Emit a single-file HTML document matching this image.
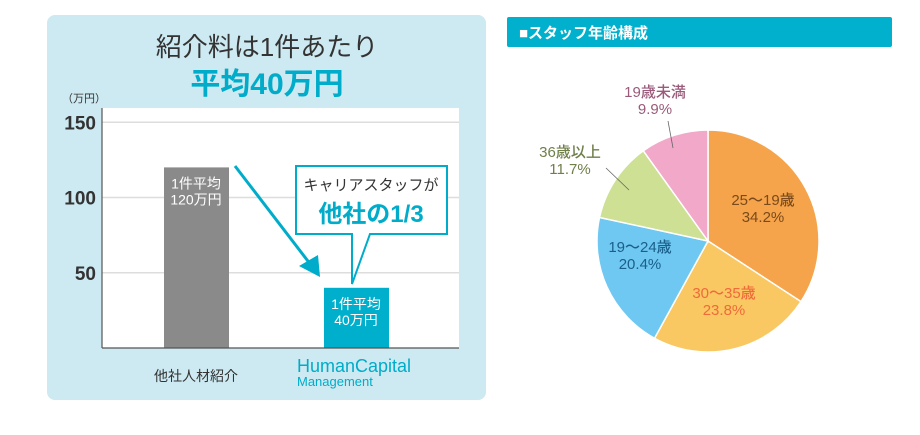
<!DOCTYPE html>
<html><head><meta charset="utf-8">
<style>
body{margin:0;width:920px;height:430px;background:#fff;overflow:hidden;font-family:"Liberation Sans","Noto Sans CJK JP",sans-serif;}
svg text{font-family:"Liberation Sans","Noto Sans CJK JP",sans-serif;}
</style></head><body>
<svg width="920" height="430">
<g id="bar">
<rect x="47" y="15" width="439" height="385" rx="8" fill="#cde9f1"/>
<text x="267" y="56" font-size="26" fill="#333" text-anchor="middle">紹介料は1件あたり</text>
<text x="267" y="94" font-size="30" font-weight="bold" fill="#00acc9" text-anchor="middle">平均40万円</text>
<text x="62" y="102" font-size="11" fill="#333">（万円）</text>
<rect x="102" y="108" width="357" height="240" fill="#fff"/>
<g id="grid"></g>
<g id="bars"></g>
<line x1="102" y1="108" x2="102" y2="348" stroke="#555" stroke-width="1.2"/>
<line x1="102" y1="348" x2="459" y2="348" stroke="#555" stroke-width="1.2"/>
<line x1="235" y1="166" x2="314" y2="269" stroke="#00acc9" stroke-width="3"/>
<polygon points="320,277 299,266 318,255" fill="#00acc9"/>
<g>
<path d="M296,166 H447 V234 H370 L352,284 L352,234 H296 Z" fill="#fff" stroke="#00acc9" stroke-width="2"/>
<text x="371" y="190" font-size="15" fill="#333" text-anchor="middle">キャリアスタッフが</text>
<text x="371" y="222" font-size="24" font-weight="bold" fill="#00acc9" text-anchor="middle">他社の1/3</text>
</g>
<text x="196" y="381" font-size="14" fill="#333" text-anchor="middle">他社人材紹介</text>
<text x="297" y="372" font-size="18" fill="#00acc9">HumanCapital</text>
<text x="297" y="386" font-size="13" fill="#00acc9">Management</text>
</g>
<g>
<rect x="507" y="17" width="385" height="30" rx="2" fill="#00b0cc"/>
<text x="519" y="38" font-size="15" font-weight="bold" fill="#fff">■スタッフ年齢構成</text>
<g id="pie"></g>
<line x1="668" y1="121" x2="673" y2="148" stroke="#666" stroke-width="0.8"/>
<line x1="606" y1="168" x2="629" y2="190" stroke="#666" stroke-width="0.8"/>
<g id="pielabels"></g>
</g>
</svg>
<script>
const barCats=["他社人材紹介","HumanCapital"];
const barVals=[120,40];
const barLabels=[["1件平均","120万円"],["1件平均","40万円"]];
const yTicks=[50,100,150];
const pieCats=["25〜19歳","30〜35歳","19〜24歳","36歳以上","19歳未満"];
const pieVals=[34.2,23.8,20.4,11.7,9.9];
const ns="http://www.w3.org/2000/svg";
function mk(t,a,p){const e=document.createElementNS(ns,t);for(const k in a)e.setAttribute(k,a[k]);p.appendChild(e);return e;}
const y=v=>348-v*1.505;
const grid=document.getElementById('grid');
yTicks.forEach(t=>{
 const l=mk('line',{x1:102,x2:459,y1:y(t),y2:y(t),stroke:'#ddd','stroke-width':1.5},grid);
 
 
 const tx=mk('text',{x:96,y:y(t)+7,'font-size':19,'font-weight':'bold',fill:'#333','text-anchor':'end'},grid);
 tx.textContent=t;
 
 
});
const bars=document.getElementById('bars');
const bx=[196,356],cols=['#8a8a8a','#00afcc'];
barVals.forEach((v,i)=>{
 const r=mk('rect',{x:bx[i]-32,y:y(v),width:65,height:348-y(v),fill:cols[i]},bars);
 
 
 barLabels[i].forEach((s,j)=>{
  const t=mk('text',{x:bx[i],y:y(v)+21+j*16,'font-size':14,fill:'#fff','text-anchor':'middle'},bars);
  t.textContent=s;
  
  
 });
});
const cx=708,cy=241,R=111;
const pcol=['#f5a44b','#f9c862','#6ec8f2','#cde093','#f1a8c9'];
const lpos=[[763,205],[724,298],[640,252],[570,157],[655,97]];
const lcol=['#7a4a1a','#f06a3a','#1a5f8a','#6f7f4a','#9a5a7a'];
const pie=document.getElementById('pie'),pl=document.getElementById('pielabels');
const tot=pieVals.reduce((a,b)=>a+b,0);let a0=0;
pieVals.forEach((v,i)=>{
 const a1=a0+v/tot*2*Math.PI;
 const p=(a)=>[cx+R*Math.sin(a),cy-R*Math.cos(a)];
 const [x0,y0]=p(a0),[x1,y1]=p(a1);
 const s=mk('path',{d:`M${cx},${cy} L${x0},${y0} A${R},${R} 0 ${a1-a0>Math.PI?1:0} 1 ${x1},${y1} Z`,fill:pcol[i],stroke:'#fff','stroke-width':1.5},pie);
 
 
 a0=a1;
 [pieCats[i],v.toFixed(1)+'%'].forEach((str,j)=>{
  const t=mk('text',{x:lpos[i][0],y:lpos[i][1]+j*17,'font-size':15,'font-weight':500,fill:lcol[i],'text-anchor':'middle'},pl);
  t.textContent=str;
  
  
 });
});
</script>
</body></html>
